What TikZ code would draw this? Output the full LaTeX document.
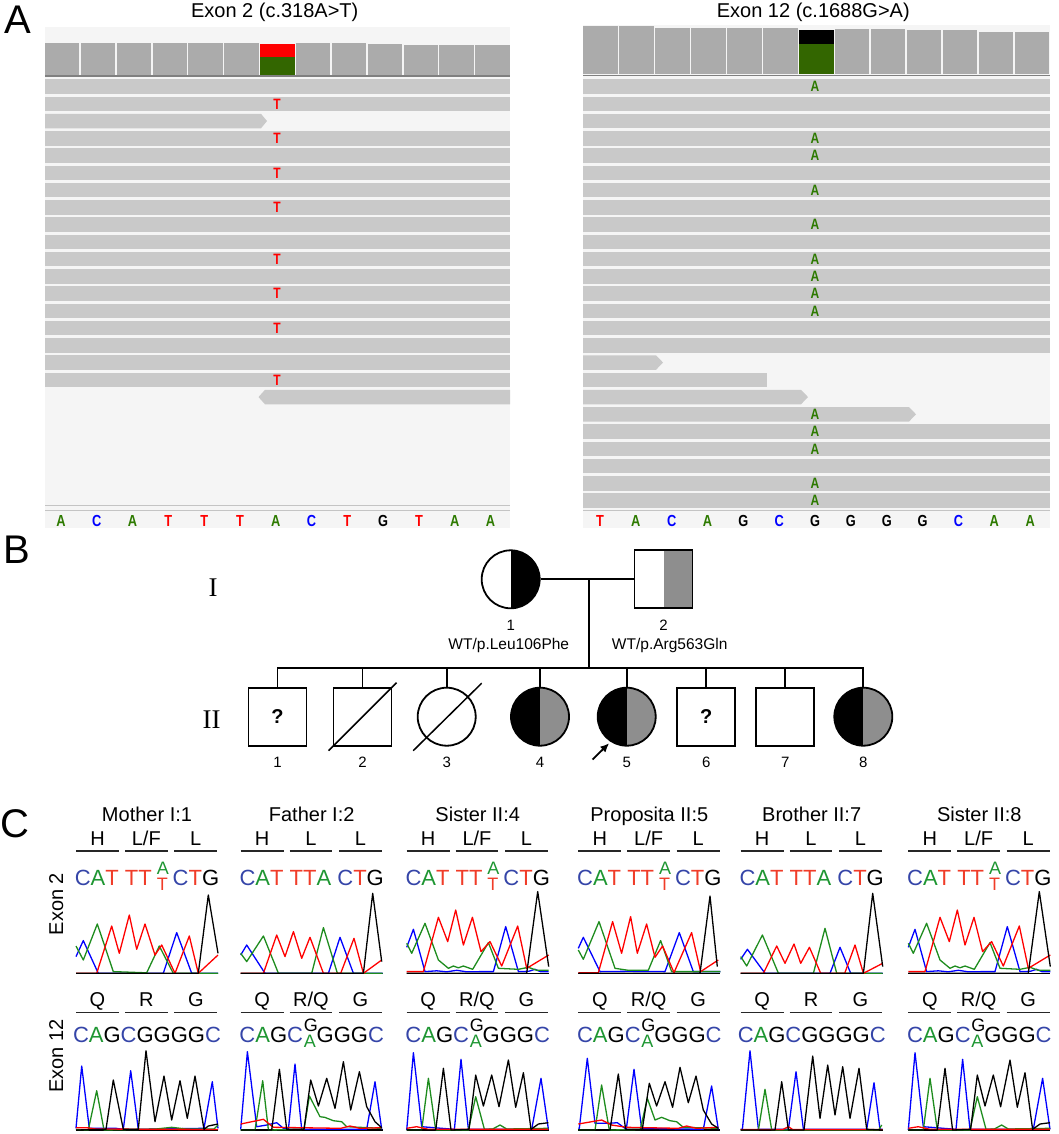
\documentclass[tikz,border=0pt]{standalone}
\usepackage{fontspec}
\setmainfont{Liberation Sans}
\newfontfamily\romfont{Liberation Serif}
\newfontfamily\igvfont[FakeStretch=0.8]{Liberation Sans}
\usetikzlibrary{arrows.meta}

\definecolor{covgray}{HTML}{ABABAB}
\definecolor{readgray}{HTML}{C9C9C9}
\definecolor{panelbg}{HTML}{F5F5F5}
\definecolor{covline}{HTML}{808080}
\definecolor{refline}{HTML}{C4C4C4}
\definecolor{igvgreen}{HTML}{336600}
\definecolor{igvA}{HTML}{2D7A00}
\definecolor{igvC}{HTML}{0000FF}
\definecolor{igvT}{HTML}{FF0000}
\definecolor{igvG}{HTML}{000000}
\definecolor{pedgray}{HTML}{8E8E8E}
\definecolor{trblue}{HTML}{0000FF}
\definecolor{trgreen}{HTML}{1E8C1E}
\definecolor{trred}{HTML}{FF0000}
\definecolor{sqC}{HTML}{3545A8}
\definecolor{sqA}{HTML}{1E9632}
\definecolor{sqT}{HTML}{F03C28}
\definecolor{sqG}{HTML}{000000}

\newcommand\fs[1]{\fontsize{#1}{#1}\selectfont}
\newcommand\nC{\textcolor{sqC}{C}}
\newcommand\nA{\textcolor{sqA}{A}}
\newcommand\nT{\textcolor{sqT}{T}}
\newcommand\nG{\textcolor{sqG}{G}}
\newcommand\stk[5]{\makebox[#1][c]{\rlap{\raisebox{0.5em}{\fs{18}\textcolor{#3}{#2}}}\raisebox{-0.24em}{\fs{18}\textcolor{#5}{#4}}}}
\newcommand\twoMut{\nC\nA\nT\ \nT\nT\stk{0.95em}{A}{sqA}{T}{sqT}\nC\nT\nG}
\newcommand\twoWt{\nC\nA\nT\ \nT\nT\nA\ \nC\nT\nG}
\newcommand\xMut{\nC\nA\nG\nC\stk{0.62em}{G}{sqG}{A}{sqA}\nG\nG\nG\nC}
\newcommand\xWt{\nC\nA\nG\nC\nG\nG\nG\nG\nC}
\newcommand\LF{L/F}
\newcommand\RQ{R/Q}

\newcommand\chrom[6]{%
  \begin{scope}[shift={(#1,#2)},yscale=-1]
    \draw[trK] (0,0) -- (142,0);
    \draw[trB] plot coordinates {#3};
    \draw[trG] plot coordinates {#4};
    \draw[trR] plot coordinates {#5};
    \draw[trK] plot coordinates {#6};
  \end{scope}}

\newcommand\sisTwo[1]{\chrom{#1}{973.3}
  {(0,26) (6.7,44) (18.3,1.7) (30,2.5) (40,1.5) (50,3) (60,1.5) (75,1.7) (86.7,1.7) (99,46.7) (111.7,1.7) (122,2) (128.3,4) (134,1.5) (142,1.5)}
  {(0,30) (5,20) (18.3,50) (31.7,13.3) (41.7,5) (46.7,7.3) (51.7,5.5) (56.7,7.3) (66,4) (81.7,30.7) (91.7,5) (111.7,4) (121.7,6) (130,3) (142,3)}
  {(0,1.7) (16.7,1.7) (31.7,56) (41,31.7) (49,63.3) (56.7,28.3) (65.7,56) (74.3,21.7) (83.3,31.7) (95,7.3) (111,47.3) (120,5) (142,18.3)}
  {(0,0) (120,0) (131,81.7) (142,6.7)}}

\newcommand\sisTwelve[1]{\chrom{#1}{1130}
  {(0,0) (6.7,77.3) (15,3.3) (35,1.7) (47.7,0.7) (54.3,70.7) (61.7,0.7) (125,0.7) (134.3,51.7) (141.7,0.7)}
  {(0,0) (15,0) (21.7,51.7) (29,0) (61.7,0) (69,33.3) (77.7,0.7) (86,1) (93.3,5) (100,1) (141.7,1.7)}
  {(0,1.7) (10,3.3) (21.7,0.7) (141.7,0.7)}
  {(0,0) (29,0) (36.7,61.7) (44.3,0) (62.3,0.7) (69,55) (76.7,24) (85,55) (92.3,23.3) (101.7,70) (109,22.7) (116.7,57.3) (124.3,0.7) (131.7,6) (141.7,7.3)}}

\tikzset{
  panel/.style={font=\fs{40}, inner sep=0pt},
  ttl/.style={font=\fs{20}, inner sep=0pt},
  lab/.style={font=\fs{20}, inner sep=0pt},
  seq/.style={font=\fs{22}, inner sep=0pt},
  rom/.style={font=\romfont\fs{27}, inner sep=0pt},
  igv/.style={font=\igvfont\fs{15}\bfseries, inner sep=0pt, text=igv#1},
  ped/.style={draw, line width=1.8pt, inner sep=0pt, minimum size=58pt},
  pm/.style={ped, rectangle},
  pf/.style={ped, circle},
  rhalf/.style={path picture={\fill[#1] (path picture bounding box.north) rectangle (path picture bounding box.south east);}},
  carrier/.style={path picture={\fill[black] (path picture bounding box.north west) rectangle (path picture bounding box.south);
    \fill[pedgray] (path picture bounding box.north) rectangle (path picture bounding box.south east);}},
  pedline/.style={line width=1.8pt},
  num/.style={font=\fs{15}, inner sep=0pt},
  segline/.style={line width=1.1pt, draw=black!85},
  trB/.style={draw=trblue, line width=1.3pt, line join=round},
  trG/.style={draw=trgreen, line width=1.3pt, line join=round},
  trR/.style={draw=trred, line width=1.3pt, line join=round},
  trK/.style={draw=black, line width=1.3pt, line join=round}
}

\begin{document}
\begin{tikzpicture}[x=1pt,y=-1pt]
\useasboundingbox (0,0) rectangle (1059,1134);

\node[panel] (pA) at (17.5,19.5) {A};
\node[ttl, anchor=base] (ta2) at (274.7,17.3) {Exon 2 (c.318A>T)};
\node[ttl, anchor=base] (ta12) at (813.3,17.3) {Exon 12 (c.1688G>A)};

\fill[panelbg] (45,27) rectangle (510,528);
\fill[panelbg] (583,25) rectangle (1050,528);

\foreach \t [count=\i from 0] in {42.7,42.7,42.7,42.7,42.7,42.7,44,43,43.3,44.5,45,45,45}
  \fill[covgray] ({45+\i*35.85},\t) rectangle ++(34.4,{75-\t});
\foreach \t [count=\i from 0] in {26,26,27.7,27.7,27.7,27.7,30,29,29,30,30,31.7,31.7}
  \fill[covgray] ({583.3+\i*35.95},\t) rectangle ++(34.5,{74-\t});
\fill[red] (260.1,44) rectangle (294.5,57.3);
\fill[igvgreen] (260.1,57.3) rectangle (294.5,75);
\fill[black] (799,30) rectangle (833.5,44);
\fill[igvgreen] (799,44) rectangle (833.5,74);
\draw[covline, line width=1.3pt] (45,76) -- (510,76);
\draw[covline, line width=1.3pt] (583,75.5) -- (1050,75.5);

\draw[refline, line width=1.5pt] (45,505.3) -- (510,505.3);
\draw[refline, line width=1.5pt] (45,510.7) -- (510,510.7);
\draw[refline, line width=1.5pt] (583,510.7) -- (1050,510.7);

\foreach \k in {1,2,4,5,...,18}
  \fill[readgray] (45,{79.3+(\k-1)*17.25}) rectangle ++(465,14.5);
\fill[readgray] (45,113.8) -- (261,113.8) -- (267,121.05) -- (261,128.3) -- (45,128.3) -- cycle;
\fill[readgray] (510,389.8) -- (265,389.8) -- (258.5,397.05) -- (265,404.3) -- (510,404.3) -- cycle;
\foreach \k in {2,4,6,8,11,13,15,18}
  \node[igv=T, anchor=base] (rt\k) at (277,{79.3+(\k-1)*17.25+12.5}) {T};

\foreach \k in {1,...,16}
  \fill[readgray] (583,{79.3+(\k-1)*17.25}) rectangle ++(467,14.5);
\foreach \k in {21,22,23,24,25}
  \fill[readgray] (583,{79.3+(\k-1)*17.25}) rectangle ++(467,14.5);
\foreach \k/\e in {17/656,19/801,20/909}
  \fill[readgray] (583,{79.3+(\k-1)*17.25}) -- (\e,{79.3+(\k-1)*17.25}) -- (\e+7,{86.55+(\k-1)*17.25})
    -- (\e,{93.8+(\k-1)*17.25}) -- (583,{93.8+(\k-1)*17.25}) -- cycle;
\fill[readgray] (583,372.55) rectangle (767,387.05);
\foreach \k in {1,4,5,7,9,11,12,13,14,20,21,22,24,25}
  \node[igv=A, anchor=base] (ra\k) at (815,{79.3+(\k-1)*17.25+12.5}) {A};

\foreach \b [count=\i from 0] in {A,C,A,T,T,T,A,C,T,G,T,A,A}
  \node[igv=\b, font=\igvfont\fs{16}\bfseries, anchor=base] (lb\i) at ({61+\i*35.8},526.7) {\b};
\foreach \b [count=\i from 0] in {T,A,C,A,G,C,G,G,G,G,C,A,A}
  \node[igv=\b, font=\igvfont\fs{16}\bfseries, anchor=base] (rb\i) at ({600+\i*35.85},526.7) {\b};

\node[panel] (pB) at (17,550) {B};
\node[rom, anchor=base] (gI) at (213,596) {I};
\node[rom, anchor=base] (gII) at (211.7,728.3) {II};

\begin{scope}[every node/.append style={}]
  \node[pf, rhalf=black] (i1) at (510.7,579.3) {};
  \node[pm, rhalf=pedgray] (i2) at (663.5,579.3) {};
  \node[pm, font=\fs{20}\bfseries] (ii1) at (277.5,716.7) {?};
  \node[pm] (ii2) at (362.5,716.7) {};
  \node[pf] (ii3) at (446.7,716.7) {};
  \node[pf, carrier] (ii4) at (540,716.7) {};
  \node[pf, carrier] (ii5) at (626.7,716.7) {};
  \node[pm, font=\fs{20}\bfseries] (ii6) at (706.3,716.7) {?};
  \node[pm] (ii7) at (785.3,716.7) {};
  \node[pf, carrier] (ii8) at (863.3,716.7) {};
\end{scope}

\coordinate (mar) at (589,579.3);
\coordinate (sib) at (589,667.7);
\coordinate (nl) at (0,767.3);
\coordinate (pbt) at (592.5,759.5);
\draw[pedline] (i1) -- (i2);
\draw[pedline] (mar) -- (sib);
\draw[pedline] (ii1.north) |- (sib) -| (ii8.north);
\foreach \c in {2,...,7}
  \draw[pedline] (ii\c.north) -- (ii\c.north |- sib);
\draw[line width=1.5pt] ([shift={(-34,34)}]ii2.center) -- ([shift={(34,-34)}]ii2.center);
\draw[line width=1.5pt] ([shift={(-33.5,34)}]ii3.center) -- ([shift={(35,-33.5)}]ii3.center);
\draw[line width=1.8pt, -{Latex[length=9pt,width=8pt]}] (pbt) -- ([shift={(-17.5,26.5)}]ii5.center);

\node[num, anchor=base] (ni1) at (510.7,630) {1};
\node[num, anchor=base] (ni2) at (663.5,630) {2};
\node[num, font=\fs{15.5}, anchor=base] (gt1) at (508.8,649.3) {WT/p.Leu106Phe};
\node[num, font=\fs{15.5}, anchor=base] (gt2) at (669.7,649.3) {WT/p.Arg563Gln};
\foreach \c in {1,...,8}
  \node[num, anchor=base] (n\c) at (ii\c |- nl) {\c};

\node[panel] (pC) at (15,823.3) {C};
\node[ttl, rotate=90, anchor=base] (e2) at (63,904) {Exon 2};
\node[ttl, rotate=90, anchor=base] (e12) at (63,1056) {Exon 12};

\foreach \x/\t/\m/\s/\r/\u [count=\c] in {
    76/Mother I:1/\LF/\twoMut/R/\xWt,
    240.7/Father I:2/L/\twoWt/\RQ/\xMut,
    406.7/Sister II:4/\LF/\twoMut/\RQ/\xMut,
    578.3/Proposita II:5/\LF/\twoMut/\RQ/\xMut,
    740.7/Brother II:7/L/\twoWt/R/\xWt,
    908.3/Sister II:8/\LF/\twoMut/\RQ/\xMut}{
  \node[ttl, anchor=base] (ct\c) at (\x+71,821.7) {\t};
  \node[lab, anchor=base] (h\c) at (\x+21.5,845) {H};
  \node[lab, anchor=base] (m\c) at (\x+70.3,845) {\m};
  \node[lab, anchor=base] (k\c) at (\x+119.8,845) {L};
  \node[lab, anchor=base] (q\c) at (\x+21.5,1006.7) {Q};
  \node[lab, anchor=base] (r\c) at (\x+70.3,1006.7) {\r};
  \node[lab, anchor=base] (g\c) at (\x+119.8,1006.7) {G};
  \foreach \a/\b in {0/43,49/91.7,98.3/141.3}{
    \draw[segline] (\x+\a,851) -- (\x+\b,851);
    \draw[segline] (\x+\a,1012.3) -- (\x+\b,1012.3);}
  \node[seq, anchor=base] (s\c) at (\x+71,885) {\s};
  \node[seq, anchor=base] (u\c) at (\x+71,1042.7) {\u};
}

\chrom{76}{973.3}
  {(0,16.7) (7.3,32.7) (22.3,0) (87.3,0) (100.7,40.7) (115.7,0) (142,0)}
  {(0,27.3) (7.3,13.3) (21.3,49.3) (37.3,1.7) (70.7,0.5) (83.3,27.3) (97.3,0) (142,0)}
  {(0,0) (20.7,0) (35.7,47.3) (43.3,20) (53.3,58.3) (60.7,24) (69,49.3) (79,18.3) (85.7,28.3) (99,0) (113.3,37.3) (122.3,0) (142,18.3)}
  {(0,0) (122.3,0) (132.3,78.3) (142,20)}
\chrom{240.7}{973.3}
  {(0,18.3) (6,28.3) (24.3,0) (87.7,0) (99.3,36) (112.7,0) (142,0)}
  {(0,20) (6,11.7) (22.7,37.3) (37.7,0) (71,0) (82.7,45.7) (96.7,0) (142,0)}
  {(0,0) (22.7,0) (36,38.3) (44.3,16.7) (52.7,41.7) (61,15) (69.3,36) (82.7,0) (100,0) (113.3,35) (122.7,0) (141,13.3)}
  {(0,0) (122.7,0) (132,80) (141,11.7)}
\sisTwo{406.7}
\chrom{578.3}{973.3}
  {(0,25) (5,36) (21.7,1.7) (50,2) (86.7,1.7) (101,40.7) (115,1.7) (142,1.7)}
  {(0,23.3) (5,14) (20.7,51.7) (36.7,5) (50,3) (70,3) (82.3,32.7) (93.3,1.7) (142,1.7)}
  {(0,0.5) (20,0.5) (34.3,51.7) (43.3,20) (52.3,56.7) (59,20) (68.3,49.3) (76.7,16) (84.3,27.3) (95.7,0.7) (113.3,40.7) (122.3,1.7) (140,13.3)}
  {(0,0) (121.7,0) (131.7,77.3) (139,6.7)}
\chrom{740.7}{973.3}
  {(0,14) (6.7,24) (24.3,0) (89.3,0) (99.3,26) (110,0) (142,0)}
  {(0,16.7) (6,7.3) (21.7,38.3) (37.7,0) (72.7,0) (84.3,45) (96,0) (142,0)}
  {(0,0) (22.7,0) (36,27.3) (44.3,10) (53.3,29.3) (60,10) (68.7,26) (80,0) (104,0) (114.3,28.3) (122.7,0) (142,10)}
  {(0,0) (122.7,0) (132,80) (142,6.7)}
\sisTwo{908.3}

\chrom{76}{1130}
  {(0,1.7) (5.7,64) (13.3,1.7) (40,1.7) (47.3,0.7) (54.7,59.3) (62.3,0.7) (128,1.7) (136.3,48.3) (142,1.7)}
  {(0,0.5) (12.3,0) (20.7,39.3) (28,0) (80,1) (95.7,2.7) (110,1) (138,1) (142,5)}
  {(0,2.3) (10.7,2.3) (20,1) (142,0.5)}
  {(0,0) (30,0.7) (37.3,50) (47.3,0.7) (62.3,0.7) (70,79.3) (79,8.3) (88,54) (95.7,10) (104,49.3) (111.3,11.7) (119,54) (128,0.7) (132.3,4) (142,6)}
\chrom{240.7}{1130}
  {(0,0.7) (6.7,78.3) (16,3.3) (26,5) (36,7.3) (42.7,1.7) (47.7,0.7) (54.3,66) (61,0.7) (126,0.7) (134.3,48.3) (141,0.7)}
  {(0,0) (14.3,0) (22,49.3) (27.7,0) (63.3,0.7) (68.7,34) (79.3,13.3) (84,12.7) (92.7,9.3) (101,8.3) (106,3.3) (141,1.7)}
  {(0,6) (22.7,10.7) (32.7,2.7) (100,1.7) (109.3,4) (119,1.7) (141,2.3)}
  {(0,0) (31,0) (38.7,60.7) (46,0.7) (63.3,0.7) (70,50) (77.7,24) (86,51.7) (94.3,21.7) (102.7,68.3) (110,20) (118.7,58.3) (126,23.3) (134.3,8.3) (141,2.3)}
\sisTwelve{406.7}
\chrom{578.3}{1130}
  {(0,1.7) (1,1.7) (9,71.7) (16.7,6.7) (30,6.7) (39,7.3) (46.7,1.7) (48,0.7) (55.7,60.7) (63.3,1.7) (125,0.7) (133.3,44) (140,0.7)}
  {(0,0) (16.7,0) (23.3,45) (31,0) (62,0.5) (69,31.7) (76.7,10) (83.3,12.7) (91.7,9.3) (98.3,8.3) (105,2.7) (140,1.7)}
  {(0,6) (23.3,10) (33.3,5) (48.3,2.7) (100,1.7) (108.3,4) (118,1.7) (140,2.7)}
  {(0,0) (31.7,0) (40,56) (47.3,0.7) (64,0.7) (71,46.7) (78.3,24) (86.7,48.3) (94.3,22.7) (101.7,62.7) (110,27.3) (117.7,54) (125,20) (133.3,6) (140,1.7)}
\chrom{740.7}{1130}
  {(0,0.7) (1.7,0.7) (9.3,79.3) (17.7,0.7) (47.7,0.7) (55.3,58.3) (62.7,0.7) (126,0.7) (133.3,47.3) (139.3,0.7) (142,0.7)}
  {(0,0) (17.7,0) (24.3,40.7) (31,0) (138,0) (141,5)}
  {(0,0.5) (42,0.5) (47.7,3.3) (52,0.5) (142,0.5)}
  {(0,0) (34.3,0) (41,48.3) (47.7,0) (63.3,0) (72,74) (79.3,11.7) (87,65) (94.3,15) (102,63.3) (109.3,11.7) (118.3,61.7) (126,0.7) (142,0)}
\sisTwelve{908.3}

\end{tikzpicture}
\end{document}
